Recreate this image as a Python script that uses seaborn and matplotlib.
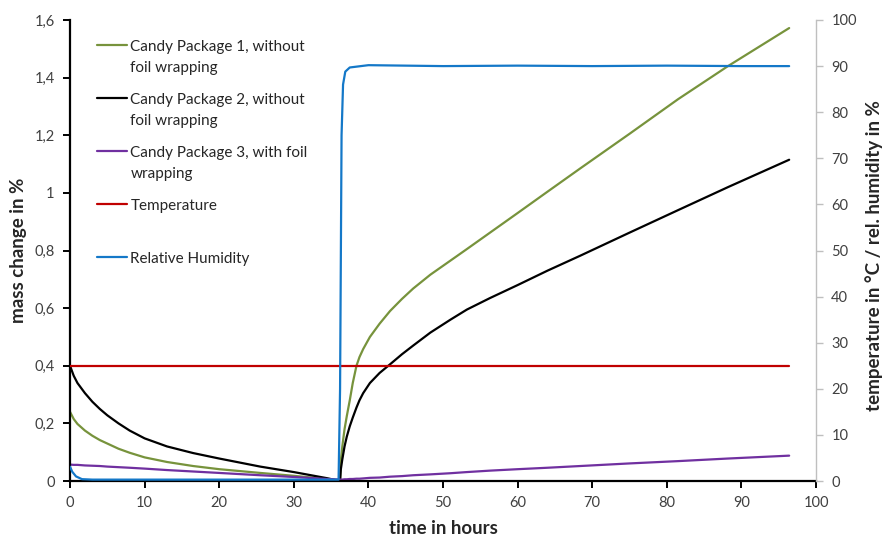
import matplotlib
matplotlib.use("Agg")
import matplotlib.pyplot as plt
import seaborn as sns
import pandas as pd
from matplotlib.ticker import FuncFormatter, MultipleLocator

# ---------------- data ----------------
time_mass = [0, 0.5, 1, 2, 3, 4, 5, 6.5, 8, 10, 13, 16.5, 20, 25.5, 30, 34.4,
             36.2,
             36.3, 36.5, 36.8, 37.1, 37.5, 37.9, 38.4, 38.8, 39.3, 40.2, 41.5,
             42.9, 44.5, 46.0, 48.3, 51, 53.2, 56.3, 60, 64, 68.4, 75, 81.5,
             88.2, 96.4]
pkg1 = [0.24, 0.215, 0.198, 0.175, 0.157, 0.142, 0.13, 0.112, 0.098, 0.082,
        0.066, 0.052, 0.041, 0.028, 0.018, 0.007, 0.0,
        0.07, 0.12, 0.18, 0.225, 0.28, 0.34, 0.40, 0.43, 0.458, 0.50, 0.546,
        0.59, 0.632, 0.668, 0.716, 0.765, 0.805, 0.862, 0.93, 1.004, 1.085,
        1.205, 1.325, 1.44, 1.572]
pkg2 = [0.40, 0.365, 0.34, 0.305, 0.275, 0.25, 0.228, 0.20, 0.175, 0.148,
        0.12, 0.097, 0.078, 0.05, 0.031, 0.01, 0.0,
        0.04, 0.075, 0.12, 0.154, 0.19, 0.22, 0.255, 0.28, 0.305, 0.34, 0.375,
        0.405, 0.44, 0.47, 0.515, 0.56, 0.595, 0.635, 0.68, 0.73, 0.782,
        0.862, 0.94, 1.02, 1.115]
pkg3 = [0.057, 0.056, 0.056, 0.054, 0.053, 0.052, 0.050, 0.048, 0.046, 0.043,
        0.038, 0.033, 0.028, 0.020, 0.014, 0.007, 0.005,
        0.005, 0.005, 0.006, 0.006, 0.007, 0.007, 0.008, 0.008, 0.009, 0.011,
        0.012, 0.015, 0.017, 0.020, 0.023, 0.027, 0.031, 0.036, 0.041, 0.046,
        0.052, 0.061, 0.069, 0.078, 0.088]

time_temp = [0, 20, 40, 60, 80, 96.4]
temperature = [25.0, 25.0, 25.0, 25.0, 25.0, 25.0]

time_rh = [0, 0.3, 0.8, 1.6, 3, 10, 20, 30, 36.0, 36.2, 36.4, 36.6, 36.9,
           37.5, 40, 50, 60, 70, 80, 90, 96.4]
rel_humidity = [3.1, 2.0, 1.0, 0.4, 0.3, 0.3, 0.3, 0.3, 0.3, 20, 75, 86, 88.8,
                89.7, 90.2, 90.0, 90.1, 90.0, 90.1, 90.0, 90.0]

labels = ["Candy Package 1, without\nfoil wrapping",
          "Candy Package 2, without\nfoil wrapping",
          "Candy Package 3, with foil\nwrapping",
          "Temperature\n",
          "Relative Humidity"]
colors = ["#77933C", "#000000", "#7030A0", "#C00000", "#1478C8"]

# ---------------- style ----------------
sns.set_style("white")
plt.rcParams["font.family"] = ["Lato", "DejaVu Sans"]
tick_color = "#404040"

fig = plt.figure(figsize=(8.84, 5.39), dpi=100)
ax = fig.add_subplot(111)
fig.subplots_adjust(left=0.0792, right=0.9231, bottom=0.1076, top=0.9629)
ax2 = ax.twinx()

df_mass = pd.DataFrame({"t": time_mass, "p1": pkg1, "p2": pkg2, "p3": pkg3})
df_temp = pd.DataFrame({"t": time_temp, "v": temperature})
df_rh = pd.DataFrame({"t": time_rh, "v": rel_humidity})

lw = 1.6
handles = []
for col, c in zip(["p1", "p2", "p3"], colors[:3]):
    sns.lineplot(data=df_mass, x="t", y=col, ax=ax, color=c, lw=lw,
                 estimator=None, sort=False)
    handles.append(ax.get_lines()[-1])
sns.lineplot(data=df_temp, x="t", y="v", ax=ax2, color=colors[3], lw=lw,
             estimator=None, sort=False)
handles.append(ax2.get_lines()[-1])
sns.lineplot(data=df_rh, x="t", y="v", ax=ax2, color=colors[4], lw=lw,
             estimator=None, sort=False)
handles.append(ax2.get_lines()[-1])

# axes limits & ticks
ax.set_xlim(0, 100)
ax.set_ylim(0, 1.6)
ax2.set_ylim(0, 100)
ax.xaxis.set_major_locator(MultipleLocator(10))
ax.yaxis.set_major_locator(MultipleLocator(0.2))
ax2.yaxis.set_major_locator(MultipleLocator(10))
ax.yaxis.set_major_formatter(FuncFormatter(
    lambda v, p: f"{v:.1f}".rstrip("0").rstrip(".").replace(".", ",")))

for a in (ax, ax2):
    a.spines["top"].set_visible(False)
ax.spines["right"].set_visible(False)
ax.spines["left"].set_color("black")
ax.spines["left"].set_linewidth(1.6)
ax.spines["bottom"].set_color("black")
ax.spines["bottom"].set_linewidth(1.6)
ax2.spines["left"].set_visible(False)
ax2.spines["bottom"].set_visible(False)
ax2.spines["right"].set_color("#BFBFBF")
ax2.spines["right"].set_linewidth(1.0)

ax.tick_params(axis="both", direction="out", length=5, width=1.4,
               color="black", labelsize=10.5, labelcolor=tick_color, pad=6,
               left=True, bottom=True)
ax2.tick_params(axis="y", direction="out", length=5, width=1.0,
                color="#BFBFBF", labelsize=10.5, labelcolor=tick_color, pad=6,
                right=True)
ax.grid(False)
ax2.grid(False)

lab_fs = 13.5
ax.set_xlabel("time in hours", fontsize=lab_fs, fontweight="bold")
ax.set_ylabel("mass change in %", fontsize=lab_fs, fontweight="bold")
ax2.set_ylabel("temperature in °C / rel. humidity in %", fontsize=lab_fs,
               fontweight="bold")
ax.xaxis.set_label_coords(0.5, -0.085)
ax.yaxis.set_label_coords(-0.057, 0.5)
ax2.yaxis.set_label_coords(1.066, 0.49)

leg = ax2.legend(handles, labels, loc="upper left",
                 bbox_to_anchor=(0.036, 0.957), frameon=False, fontsize=11,
                 handlelength=1.95, handletextpad=0.25, labelspacing=1.15,
                 borderpad=0, borderaxespad=0)
for t in leg.get_texts():
    t.set_linespacing(1.68)
    t.set_color("#262626")
for colbox in leg._legend_handle_box.get_children():
    for item in colbox.get_children():
        item.align = "top"

fig.savefig("out.png", dpi=100)
